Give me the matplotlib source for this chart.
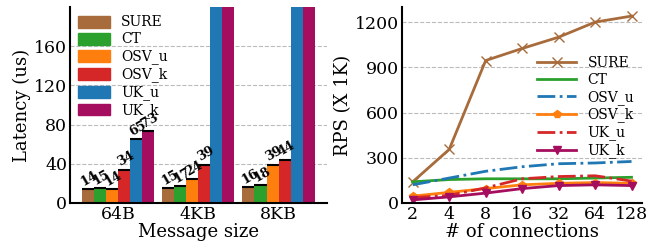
import numpy as np
import matplotlib
matplotlib.use("Agg")
import matplotlib.pyplot as plt
from matplotlib.patches import Patch

plt.rcParams["font.family"] = "DejaVu Serif"

# ── data ────────────────────────────────────────────────────────────────────
systems = ["SURE", "CT", "OSV_u", "OSV_k", "UK_u", "UK_k"]
colors = ["#a86b3b", "#2ca02c", "#ff7f0e", "#d62728", "#1f77b4", "#a50d5e"]

msg_sizes = ["64B", "4KB", "8KB"]
latency = {
    "SURE":  [14, 15, 16],
    "CT":    [15, 17, 18],
    "OSV_u": [14, 24, 39],
    "OSV_k": [34, 39, 44],
    "UK_u":  [65, 400, 420],
    "UK_k":  [73, 410, 430],
}

connections = ["2", "4", "8", "16", "32", "64", "128"]
rps = {
    "SURE":  [140, 355, 945, 1025, 1100, 1200, 1240],
    "CT":    [140, 155, 160, 160, 160, 165, 170],
    "OSV_u": [120, 165, 210, 240, 260, 265, 275],
    "OSV_k": [45, 70, 95, 120, 130, 135, 130],
    "UK_u":  [35, 50, 100, 160, 175, 180, 145],
    "UK_k":  [20, 40, 65, 95, 115, 120, 115],
}

fig = plt.figure(figsize=(6.47, 2.43), dpi=100)
ax1 = fig.add_axes([0.108, 0.165, 0.397, 0.806])
ax2 = fig.add_axes([0.621, 0.165, 0.372, 0.806])

# ── left: latency bars ──────────────────────────────────────────────────────
ymax = 200
width = 0.15
xg = np.arange(len(msg_sizes))
for k, (name, col) in enumerate(zip(systems, colors)):
    xs = xg + (k - 2.5) * width
    vals = latency[name]
    ax1.bar(xs, vals, width, color=col, label=name, zorder=2)
    for x, v in zip(xs, vals):
        if v < ymax:
            ax1.hlines(v, x - width / 2, x + width / 2, color="black", lw=1.5, zorder=3)
            ax1.text(x + 0.02, v + 1, str(v), rotation=30, ha="center", va="bottom",
                     fontsize=9, fontweight="bold", zorder=4)

ax1.set_ylim(0, ymax)
ax1.set_xlim(-0.6, 2.6)
ax1.set_yticks([0, 40, 80, 120, 160])
ax1.set_xticks(xg)
ax1.set_xticklabels(msg_sizes)
ax1.set_ylabel("Latency (us)", fontsize=13, labelpad=2)
ax1.set_xlabel("Message size", fontsize=13, labelpad=0)
ax1.tick_params(labelsize=12.5, length=0, pad=2)
ax1.grid(axis="y", ls="--", color="#bbbbbb", lw=0.8, zorder=0)
for s in ["top", "right"]:
    ax1.spines[s].set_visible(False)
ax1.spines["left"].set_linewidth(1.5)
ax1.spines["bottom"].set_linewidth(1.5)
handles = [Patch(color=c) for c in colors]
ax1.legend(handles, systems, loc="upper left", frameon=False, fontsize=10,
           handlelength=2.3, handleheight=0.95, labelspacing=0.22,
           handletextpad=0.8, borderaxespad=0.2, bbox_to_anchor=(0.0, 1.0))

# ── right: throughput lines ─────────────────────────────────────────────────
xc = np.arange(len(connections))
ax2.plot(xc, rps["SURE"], color=colors[0], lw=2, marker="x", ms=7, label="SURE")
ax2.plot(xc, rps["CT"], color=colors[1], lw=2, label="CT")
ax2.plot(xc, rps["OSV_u"], color=colors[4], lw=2, ls="-.", label="OSV_u")
ax2.plot(xc, rps["OSV_k"], color=colors[2], lw=2, marker="p", ms=6, label="OSV_k")
ax2.plot(xc, rps["UK_u"], color=colors[3], lw=2, ls="-.", label="UK_u")
ax2.plot(xc, rps["UK_k"], color=colors[5], lw=2, marker="v", ms=6, label="UK_k")

ax2.set_ylim(0, 1300)
ax2.set_xlim(-0.3, 6.3)
ax2.set_yticks([0, 300, 600, 900, 1200])
ax2.set_xticks(xc)
ax2.set_xticklabels(connections)
ax2.set_ylabel("RPS (X 1K)", fontsize=13, labelpad=2)
ax2.set_xlabel("# of connections", fontsize=13, labelpad=0)
ax2.tick_params(labelsize=12.5, length=0, pad=2)
ax2.grid(axis="y", ls="--", color="#bbbbbb", lw=0.8, zorder=0)
for s in ["top", "right"]:
    ax2.spines[s].set_visible(False)
ax2.spines["left"].set_linewidth(1.5)
ax2.spines["bottom"].set_linewidth(1.5)
ax2.legend(loc="center right", frameon=False, fontsize=10, handlelength=2.8,
           labelspacing=0.22, handletextpad=0.8, borderaxespad=0.2,
           bbox_to_anchor=(1.0, 0.49))

fig.savefig("out.png", dpi=100)
